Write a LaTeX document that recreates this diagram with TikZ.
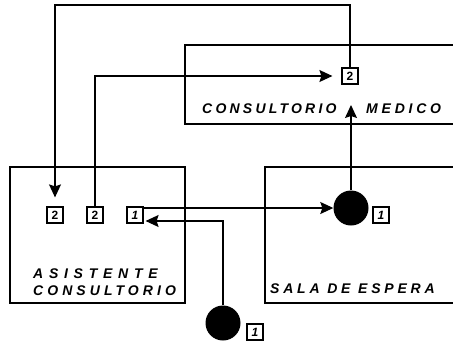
\documentclass[tikz,border=0pt]{standalone}
\usepackage{fontspec}
\setmainfont{Liberation Sans}
\newfontfamily\roomfont[LetterSpace=27]{Liberation Sans}
\usetikzlibrary{arrows.meta}

\begin{document}
\begin{tikzpicture}[
      x=1pt, y=-1pt,
      room/.style={rectangle, draw, line width=1.2pt, inner sep=0},
      label/.style={inner sep=0, anchor=base west, font=\fontsize{14}{16}\roomfont\bfseries\itshape},
      num/.style={rectangle, draw, line width=1.2pt, minimum width=16pt, minimum height=16pt, inner sep=0, font=\fontsize{12}{14}\selectfont\bfseries},
      dot/.style={circle, fill=black, minimum size=35pt, inner sep=0},
      arrow/.style={-{Stealth[length=13pt, width=12pt, inset=2pt]}, line width=1.2pt}
  ]
  \useasboundingbox (0,0) rectangle (453,346);

  % Rooms
  \node[room, minimum width=285pt, minimum height=79pt] (medico) at (327.5,84.5) {};
  \node[room, minimum width=175pt, minimum height=136pt] (asist) at (97.5,235) {};
  \node[room, minimum width=205pt, minimum height=136pt] (sala) at (367.5,235) {};

  % Room names
  \node[label, font=\fontsize{14}{16}\roomfont\addfontfeature{LetterSpace=23}\bfseries\itshape] (medA) at (202,113) {CONSULTORIO};
  \node[label] (medB) at (366,113) {MEDICO};
  \node[label, font=\fontsize{14}{16}\roomfont\addfontfeature{LetterSpace=41}\bfseries\itshape] (asiA) at (33,278) {ASISTENTE};
  \node[label, font=\fontsize{14}{16}\roomfont\addfontfeature{LetterSpace=29}\bfseries\itshape] (asiB) at (33,295) {CONSULTORIO};
  \node[label] (salA) at (270,293) {SALA DE ESPERA};

  % Numbered boxes
  \node[num] (m2) at (350,76) {2};
  \node[num] (a2) at (55,215) {2};
  \node[num] (b2) at (95,215) {2};
  \node[num] (c1) at (135,215) {\itshape 1};
  \node[num] (s1) at (381,215) {\itshape 1};
  \node[num] (p1) at (255,332) {\itshape 1};

  % Persons
  \node[dot] (sc) at (351,208) {};
  \node[dot] (pc) at (223,323) {};

  \coordinate (top) at (0,5);
  \coordinate (mtip) at (351,105);

  % Arrows
  \draw[arrow] (m2.north) |- (top -| a2.north) -- ([yshift=9pt]a2.north);
  \draw[arrow] (b2.north) |- ([xshift=-9pt]m2.west);
  \draw[arrow] (c1.east |- sc.west) -- (sc.west);
  \draw[arrow] (pc.north) |- ([xshift=2pt, yshift=-6pt]c1.east);
  \draw[arrow] (sc.north) -- (mtip);

\end{tikzpicture}
\end{document}
